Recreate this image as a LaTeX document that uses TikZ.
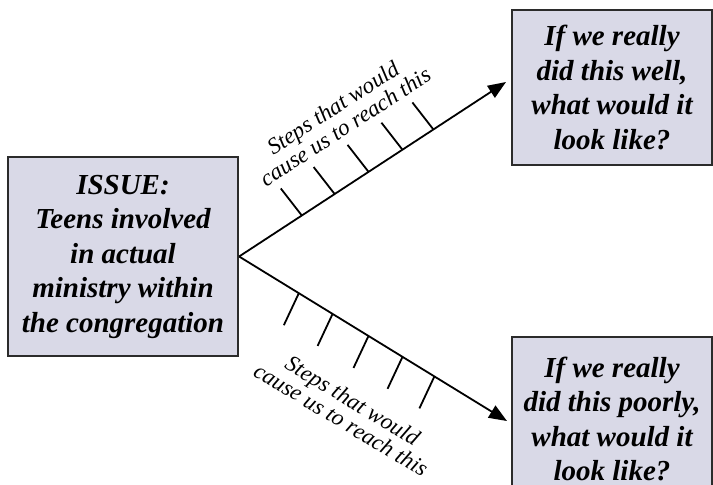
\documentclass[tikz,border=0pt]{standalone}
\usepackage{fontspec}
\setmainfont{Liberation Serif}
\usetikzlibrary{arrows.meta,calc}
\definecolor{boxfill}{HTML}{D9D9E7}
\definecolor{boxline}{HTML}{2B2B2B}

\begin{document}
\begin{tikzpicture}[x=1pt, y=-1pt,
  box/.style={draw=boxline, line width=2.2pt, fill=boxfill, align=center, inner sep=0pt,
    font=\fontsize{29}{34.5}\selectfont\bfseries\itshape},
  branch/.style={line width=1.8pt, -{Triangle[length=18pt,width=14pt]}},
  tick/.style={line width=1.8pt},
  steps/.style={align=center, inner sep=0pt, font=\fontsize{23}{22.5}\selectfont\itshape}]
  \useasboundingbox (0,0) rectangle (713,485);

  % Boxes
  \node[box, minimum width=230, minimum height=199] (issue) at (123,256.5)
    {ISSUE:\\Teens involved\\in actual\\ministry within\\the congregation};
  \node[box, minimum width=200, minimum height=155] (well) at (612,87.5)
    {If we really\\did this well,\\what would it\\look like?};
  \node[box, minimum width=200, minimum height=164] (poor) at (612,419)
    {If we really\\did this poorly,\\what would it\\look like?};

  % Branches
  \coordinate (wellTip) at (506,82);
  \coordinate (poorTip) at (507,421);
  \draw[branch] (issue.east) -- (wellTip);
  \draw[branch] (issue.east) -- (poorTip);

  % Step marks
  \draw[tick] ($(issue.east)!.235!(wellTip)$) -- ++(-21,-27);
  \draw[tick] ($(issue.east)!.358!(wellTip)$) -- ++(-21,-27);
  \draw[tick] ($(issue.east)!.485!(wellTip)$) -- ++(-21,-27);
  \draw[tick] ($(issue.east)!.612!(wellTip)$) -- ++(-21,-27);
  \draw[tick] ($(issue.east)!.728!(wellTip)$) -- ++(-21,-27);
  \draw[tick] ($(issue.east)!.223!(poorTip)$) -- ++(-15,32);
  \draw[tick] ($(issue.east)!.349!(poorTip)$) -- ++(-15,32);
  \draw[tick] ($(issue.east)!.483!(poorTip)$) -- ++(-15,32);
  \draw[tick] ($(issue.east)!.610!(poorTip)$) -- ++(-15,32);
  \draw[tick] ($(issue.east)!.729!(poorTip)$) -- ++(-15,32);

  % Labels
  \node[steps, rotate=33] (wellSteps) at (339,117) {Steps that would\\cause us to reach this};
  \node[steps, rotate=-31] (poorSteps) at (347,410) {Steps that would\\cause us to reach this};
\end{tikzpicture}
\end{document}
